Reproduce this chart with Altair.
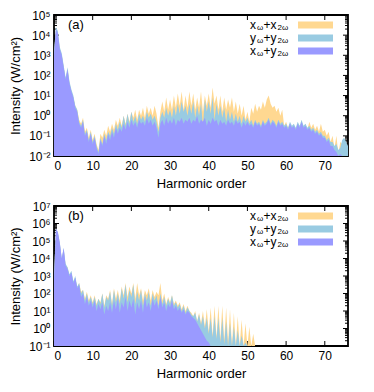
import altair as alt
import numpy as np
import pandas as pd

# harmonic-order grid (step 0.5 from 0 to 76)
harmonic = np.arange(0, 76.5, 0.5)

# ---------------- panel (a): log10 of intensity ----------------
a_xx = [3.1, 4.3, 4.1, 3.3, 3.0, 2.4, 1.8, 2.3, 1.6, 1.2,
        0.9, 0.5, 0.3, -0.2, -0.4, -0.1, -0.8, -0.6, -1.1, -0.7,
        -1.2, -0.9, -1.4, -1.7, -0.9, -1.1, -0.7, -1.0, -0.5, -0.8,
        -0.4, -0.7, -0.2, -0.5, -0.1, -0.5, 0.0, -0.4, 0.1, -0.3,
        0.2, -0.1, 0.3, -0.2, 0.3, 0.0, 0.4, -0.1, 0.5, 0.1,
        0.4, 0.0, 0.5, 0.1, -0.6, 0.2, 0.7, 0.2, 0.9, 0.3,
        0.8, 0.3, 1.0, 0.4, 1.1, 0.5, 1.2, 0.3, 1.0, 0.4,
        1.2, 0.5, 1.1, 0.3, 0.9, 0.4, 1.2, 0.2, 1.0, 0.5,
        1.1, 0.4, 1.4, 0.6, 1.0, 0.3, 1.0, 0.2, 0.9, 0.3,
        0.8, 0.4, 0.9, 0.2, 0.7, 0.1, 0.6, 0.0, 0.5, -0.2,
        0.2, -0.3, 0.4, 0.1, 0.6, 0.2, 0.5, 0.3, 0.7, 0.4,
        0.8, 1.0, 0.6, 0.4, 0.5, 0.2, 0.4, 0.0, 0.3, -0.5,
        -0.3, -0.6, -0.4, -0.7, -0.5, -0.8, -0.4, -0.6, -0.3, -0.6,
        -0.4, -0.7, -0.3, -0.6, -0.4, -0.7, -0.5, -0.8, -0.4, -0.8,
        -0.7, -1.0, -0.8, -1.3, -1.0, -1.6, -1.0, -1.9, -1.3, -1.4,
        -1.3, -1.6, -1.5]
a_yy = [3.2, 4.4, 4.2, 3.4, 3.1, 2.5, 1.9, 2.4, 1.7, 1.3,
        1.0, 0.5, 0.3, -0.3, -0.5, -0.2, -0.9, -0.7, -1.2, -0.8,
        -1.3, -1.0, -1.5, -1.8, -1.1, -1.4, -0.9, -1.2, -0.8, -1.0,
        -0.6, -0.9, -0.4, -0.7, -0.3, -0.6, 0.0, -0.5, 0.1, -0.4,
        0.2, -0.3, 0.0, -0.4, 0.1, -0.2, 0.0, -0.3, 0.2, -0.1,
        0.1, -0.2, 0.0, -0.3, -0.8, -0.1, 0.2, -0.1, 0.4, 0.0,
        0.3, -0.1, 0.5, 0.0, 0.6, 0.1, 0.7, 0.2, 0.5, 0.0,
        0.6, 0.1, 0.7, -0.1, 0.5, 0.0, 0.6, -0.5, 0.8, 0.2,
        0.7, 0.1, 0.9, -0.2, 0.6, 0.0, 0.5, -0.1, 0.4, -0.3,
        0.3, -0.2, 0.2, -0.3, 0.1, -0.3, 0.0, -0.4, 0.0, -0.3,
        -0.1, -0.4, -0.2, -0.5, -0.2, -0.4, -0.3, -0.5, -0.2, -0.4,
        -0.3, -0.1, -0.4, -0.2, -0.3, -0.5, -0.2, -0.4, -0.3, -0.5,
        -0.4, -0.6, -0.3, -0.5, -0.4, -0.6, -0.3, -0.5, -0.2, -0.5,
        -0.4, -0.6, -0.5, -0.7, -0.6, -0.8, -0.7, -0.9, -0.8, -1.0,
        -1.0, -1.2, -1.1, -1.3, -1.3, -1.5, -1.4, -1.7, -1.6, -1.2,
        -1.1, -1.3, -1.5]
a_xy = [3.0, 4.3, 4.1, 3.3, 3.0, 2.4, 1.8, 2.3, 1.6, 1.2,
        0.9, 0.4, 0.2, -0.4, -0.6, -0.3, -1.0, -0.8, -1.3, -0.9,
        -1.4, -1.1, -1.6, -1.9, -1.2, -1.5, -1.0, -1.4, -0.9, -1.2,
        -0.8, -1.1, -0.6, -0.9, -0.6, -0.8, -0.4, -0.7, -0.3, -0.6,
        -0.2, -0.5, -0.3, -0.6, -0.2, -0.4, -0.3, -0.5, -0.1, -0.4,
        -0.2, -0.5, -0.3, -0.6, -1.1, -0.4, -0.2, -0.5, -0.1, -0.4,
        -0.2, -0.4, -0.1, -0.5, -0.2, -0.3, -0.1, -0.4, -0.2, -0.3,
        -0.1, -0.4, -0.2, -0.3, 0.0, -0.4, -0.2, -0.3, -0.1, -0.5,
        -0.2, -0.4, -0.1, -0.3, -0.2, -0.5, -0.2, -0.4, -0.3, -0.5,
        -0.2, -0.4, -0.3, -0.5, -0.2, -0.4, -0.3, -0.6, -0.3, -0.5,
        -0.3, -0.5, -0.4, -0.6, -0.3, -0.5, -0.4, -0.6, -0.3, -0.5,
        -0.4, -0.2, -0.5, -0.3, -0.4, -0.6, -0.3, -0.5, -0.4, -0.6,
        -0.5, -0.7, -0.4, -0.6, -0.5, -0.7, -0.4, -0.6, -0.3, -0.6,
        -0.5, -0.7, -0.6, -0.8, -0.7, -0.9, -0.8, -1.0, -0.9, -1.1,
        -1.1, -1.3, -1.2, -1.5, -1.5, -1.7, -1.8, -2.0, -1.9, -2.0,
        -2.0, -2.0, -2.0]

# ---------------- panel (b): log10 of intensity ----------------
b_xx = [2.9, 5.6, 5.4, 4.8, 3.9, 4.5, 3.6, 3.5, 3.0, 3.2,
        2.6, 2.9, 2.3, 2.6, 2.1, 2.2, 1.7, 2.1, 1.6, 1.9,
        1.5, 1.9, 1.4, 1.7, 1.5, 2.0, 1.3, 1.9, 1.7, 2.2,
        1.4, 2.3, 1.7, 2.2, 1.6, 2.4, 1.9, 2.6, 1.8, 2.4,
        2.0, 2.6, 1.7, 2.6, 1.9, 2.3, 1.6, 2.2, 1.9, 2.3,
        1.6, 2.2, 1.8, 2.1, 1.9, 2.6, 1.6, 2.0, 1.4, 1.8,
        1.5, 1.9, 1.4, 1.6, 1.3, 1.5, 1.1, 1.4, 1.0, 1.3,
        1.0, 0.9, 0.7, 1.0, 0.4, 0.9, 0.3, 1.0, 0.1, 1.1,
        -0.2, 1.2, -0.4, 1.3, -0.5, 1.3, -0.6, 1.3, -0.7, 1.2,
        -0.8, 1.1, -1.0, 0.9, -1.2, 0.7, -1.3, 0.5, -1.5, 0.3,
        -1.5, 0.1, -1.5, -0.3, -1.5, -1.5, -1.5, -1.5, -1.5, -1.5,
        -1.5, -1.5, -1.5, -1.5, -1.5, -1.5, -1.5, -1.5, -1.5, -1.5,
        -1.5, -1.5, -1.5, -1.5, -1.5, -1.5, -1.5, -1.5, -1.5, -1.5,
        -1.5, -1.5, -1.5, -1.5, -1.5, -1.5, -1.5, -1.5, -1.5, -1.5,
        -1.5, -1.5, -1.5, -1.5, -1.5, -1.5, -1.5, -1.5, -1.5, -1.5,
        -1.5, -1.5, -1.5]
b_yy = [3.0, 5.7, 5.5, 4.9, 4.0, 4.6, 3.7, 3.5, 3.1, 3.3,
        2.7, 3.0, 2.4, 2.6, 2.0, 2.2, 1.6, 2.0, 1.5, 1.8,
        1.4, 1.8, 1.3, 1.7, 1.4, 2.0, 1.2, 1.8, 1.6, 2.1,
        1.3, 2.2, 1.5, 2.0, 1.4, 2.3, 1.7, 2.5, 1.5, 2.2,
        1.8, 2.5, 1.4, 2.1, 1.6, 2.2, 1.3, 2.0, 1.6, 2.1,
        1.3, 2.0, 1.6, 1.9, 1.3, 2.0, 1.4, 1.8, 1.3, 1.7,
        1.4, 1.9, 1.3, 1.5, 1.2, 1.4, 1.0, 1.3, 0.9, 1.2,
        1.0, 0.8, 0.7, 0.9, 0.4, 0.8, 0.2, 0.7, 0.0, 0.6,
        -0.3, 0.6, -0.5, 0.7, -0.6, 0.6, -0.8, 0.6, -0.9, 0.4,
        -1.0, 0.3, -1.2, 0.1, -1.5, -0.1, -1.5, -0.4, -1.5, -0.8,
        -1.5, -1.5, -1.5, -1.5, -1.5, -1.5, -1.5, -1.5, -1.5, -1.5,
        -1.5, -1.5, -1.5, -1.5, -1.5, -1.5, -1.5, -1.5, -1.5, -1.5,
        -1.5, -1.5, -1.5, -1.5, -1.5, -1.5, -1.5, -1.5, -1.5, -1.5,
        -1.5, -1.5, -1.5, -1.5, -1.5, -1.5, -1.5, -1.5, -1.5, -1.5,
        -1.5, -1.5, -1.5, -1.5, -1.5, -1.5, -1.5, -1.5, -1.5, -1.5,
        -1.5, -1.5, -1.5]
b_xy = [2.8, 5.7, 5.5, 4.9, 4.0, 4.6, 3.6, 3.4, 3.0, 3.2,
        2.6, 2.9, 2.3, 2.5, 1.8, 2.0, 1.4, 1.8, 1.3, 1.6,
        1.2, 1.6, 1.0, 1.4, 1.1, 1.5, 0.8, 1.3, 1.0, 1.5,
        0.9, 1.6, 1.1, 1.7, 0.9, 1.5, 1.2, 1.8, 1.0, 1.6,
        1.2, 1.7, 0.8, 1.5, 1.1, 1.6, 0.9, 1.8, 1.2, 1.5,
        1.0, 1.7, 1.3, 1.6, 1.1, 1.8, 1.2, 1.5, 1.0, 1.4,
        1.2, 1.6, 1.1, 1.3, 1.0, 1.2, 0.9, 1.1, 0.8, 1.0,
        0.9, 0.7, 0.6, 0.5, 0.3, 0.1, -0.1, -0.3, -0.5, -0.7,
        -0.8, -1.0, -1.5, -1.5, -1.5, -1.5, -1.5, -1.5, -1.5, -1.5,
        -1.5, -1.5, -1.5, -1.5, -1.5, -1.5, -1.5, -1.5, -1.5, -1.5,
        -1.5, -1.5, -1.5, -1.5, -1.5, -1.5, -1.5, -1.5, -1.5, -1.5,
        -1.5, -1.5, -1.5, -1.5, -1.5, -1.5, -1.5, -1.5, -1.5, -1.5,
        -1.5, -1.5, -1.5, -1.5, -1.5, -1.5, -1.5, -1.5, -1.5, -1.5,
        -1.5, -1.5, -1.5, -1.5, -1.5, -1.5, -1.5, -1.5, -1.5, -1.5,
        -1.5, -1.5, -1.5, -1.5, -1.5, -1.5, -1.5, -1.5, -1.5, -1.5,
        -1.5, -1.5, -1.5]

x_ticks = [0, 10, 20, 30, 40, 50, 60, 70]
a_decades = [-2, -1, 0, 1, 2, 3, 4, 5]
b_decades = [-1, 0, 1, 2, 3, 4, 5, 6, 7]
minor_mult = [2, 3, 4, 5, 6, 7, 8, 9]

C_XX = "#FFD891"
C_YY = "#99CBE2"
C_XY = "#9A9AFF"
FONT = "Liberation Sans"
W = 294
ONE = pd.DataFrame({"k": [0]})

SUP = ("'10' + replace(replace(replace(replace(replace(replace(replace(replace(replace(replace("
       "'' + round(log(datum.value)/LN10),"
       "'-','\u207b'),'0','\u2070'),'1','\u00b9'),'2','\u00b2'),'3','\u00b3'),"
       "'4','\u2074'),'5','\u2075'),'6','\u2076'),'7','\u2077'),'8','\u2078')")


def panel(xx, yy, xy, decades, height, tag):
    df = pd.DataFrame({"h": harmonic,
                       "xx": np.power(10.0, xx),
                       "yy": np.power(10.0, yy),
                       "xy": np.power(10.0, xy)})
    ydom = [10.0 ** decades[0], 10.0 ** decades[-1]]
    xs = alt.Scale(domain=[0, 76], nice=False, zero=False)
    ys = alt.Scale(type="log", domain=ydom, nice=False, clamp=True)
    xaxis = alt.Axis(values=x_ticks, title="Harmonic order", labelPadding=4,
                     titlePadding=6)
    yaxis = alt.Axis(values=[10.0 ** d for d in decades],
                     title="Intensity (W/cm\u00b2)", labelExpr=SUP,
                     labelPadding=4, titlePadding=6)

    def X(f):
        return alt.X(f, type="quantitative", scale=xs, axis=xaxis)

    def Y(f):
        return alt.Y(f, type="quantitative", scale=ys, axis=yaxis)

    major = pd.DataFrame({"v": [10.0 ** d for d in decades]})
    minor = pd.DataFrame({"v": [m * 10.0 ** d for d in decades[:-1] for m in minor_mult]})
    xt = pd.DataFrame({"h": x_ticks})

    layers = []
    # inward tick marks (drawn beneath the filled areas)
    layers.append(alt.Chart(xt).mark_rule(color="black").encode(
        x=X("h"), y=alt.value(height), y2=alt.value(height - 5)))
    layers.append(alt.Chart(xt).mark_rule(color="black").encode(
        x=X("h"), y=alt.value(0), y2=alt.value(5)))
    for d, ln in ((major, 5), (minor, 3)):
        layers.append(alt.Chart(d).mark_rule(color="black").encode(
            y=Y("v"), x=alt.value(0), x2=alt.value(ln)))
        layers.append(alt.Chart(d).mark_rule(color="black").encode(
            y=Y("v"), x=alt.value(W), x2=alt.value(W - ln)))
    for col, c in (("xx", C_XX), ("yy", C_YY), ("xy", C_XY)):
        layers.append(alt.Chart(df).mark_area(color=c, opacity=1, clip=True).encode(
            x=X("h"), y=Y(col), y2=alt.value(height)))

    # panel tag
    layers.append(alt.Chart(ONE).mark_text(text=tag, font=FONT, fontSize=13,
                                           align="left", baseline="middle",
                                           color="black").encode(
        x=alt.value(14), y=alt.value(10)))

    # legend (manual, with subscripts)
    rows = [("x", "+x", C_XX), ("y", "+y", C_YY), ("x", "+y", C_XY)]
    x0 = 196
    for i, (a, b, c) in enumerate(rows):
        yc = 10 + 13 * i
        pieces = [(a, x0, 12, 0), ("\u03c9", x0 + 7, 8, 3),
                  (b, x0 + 13.5, 12, 0), ("2\u03c9", x0 + 27.5, 8, 3)]
        for txt, px, fs, dy in pieces:
            layers.append(alt.Chart(ONE).mark_text(text=txt, font=FONT, fontSize=fs,
                                                   align="left", baseline="middle",
                                                   color="black", dy=dy).encode(
                x=alt.value(px), y=alt.value(yc)))
        layers.append(alt.Chart(ONE).mark_rect(color=c).encode(
            x=alt.value(244), x2=alt.value(279),
            y=alt.value(yc - 3.5), y2=alt.value(yc + 3.5)))

    return alt.layer(*layers).properties(width=W, height=height)


pa = panel(a_xx, a_yy, a_xy, a_decades, 141, "(a)")
pb = panel(b_xx, b_yy, b_xy, b_decades, 140, "(b)")

chart = alt.vconcat(pa, pb, spacing=8).resolve_scale(
    x="independent", y="independent").properties(padding=0).configure_view(
    stroke="black", strokeWidth=1.8).configure_axis(
    labelFont=FONT, titleFont=FONT, labelFontSize=12, titleFontSize=13,
    titleFontWeight="normal", labelColor="black", titleColor="black",
    grid=False, domain=False, ticks=False)

chart.save("out.html", embed_options={"renderer": "svg", "actions": False})
